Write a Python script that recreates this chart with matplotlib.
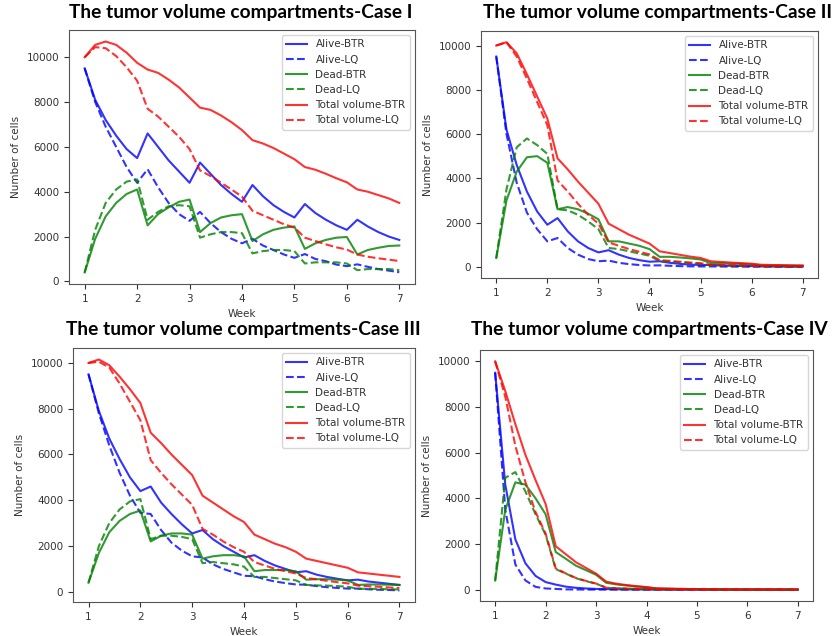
import numpy as np
import matplotlib
matplotlib.use("Agg")
import matplotlib.pyplot as plt

# daily samples, 5 per week, from week 1 to week 7
weeks = np.round(np.linspace(1, 7, 31), 1)

# Case I
alive_btr_1 = [9500, 8100, 7200, 6500, 5900, 5500, 6600, 6000, 5400, 4900, 4400, 5300, 4800, 4300, 3900, 3550,
               4300, 3800, 3400, 3100, 2850, 3450, 3050, 2750, 2500, 2300, 2750, 2450, 2200, 2000, 1850]
alive_lq_1 = [9500, 8000, 6900, 6000, 5100, 4400, 5000, 4200, 3500, 3000, 2700, 3100, 2600, 2200, 1900, 1700,
              1900, 1600, 1400, 1200, 1050, 1220, 1000, 900, 750, 680, 760, 650, 550, 480, 410]
dead_btr_1 = [400, 1900, 2900, 3500, 3900, 4100, 2500, 3000, 3300, 3550, 3650, 2200, 2600, 2850, 2950, 3000,
              1800, 2100, 2300, 2400, 2450, 1450, 1700, 1850, 1950, 1980, 1200, 1400, 1500, 1580, 1600]
dead_lq_1 = [400, 2300, 3500, 4100, 4450, 4550, 2750, 3100, 3350, 3400, 3350, 1950, 2100, 2200, 2200, 2150,
             1250, 1350, 1400, 1400, 1350, 800, 850, 850, 850, 800, 500, 550, 550, 550, 500]
total_btr_1 = [10000, 10550, 10700, 10550, 10200, 9750, 9450, 9300, 9000, 8650, 8200, 7750, 7650, 7400, 7100, 6750,
               6300, 6150, 5950, 5700, 5450, 5100, 4980, 4800, 4600, 4420, 4100, 4000, 3850, 3700, 3500]
total_lq_1 = [10000, 10450, 10400, 10050, 9550, 8950, 7700, 7350, 6900, 6450, 5900, 4950, 4700, 4400, 4100, 3780,
              3150, 2950, 2750, 2550, 2400, 1950, 1800, 1650, 1520, 1420, 1200, 1100, 1030, 970, 910]

# Case II
alive_btr_2 = [9500, 6200, 4600, 3400, 2500, 1900, 2200, 1600, 1150, 850, 650, 750, 550, 400, 300, 230,
               250, 180, 130, 100, 80, 85, 65, 50, 40, 30, 32, 25, 20, 15, 12]
alive_lq_2 = [9500, 6000, 3800, 2450, 1700, 1150, 1300, 850, 550, 350, 250, 280, 180, 120, 80, 60,
              65, 45, 30, 20, 15, 16, 11, 8, 6, 4, 5, 3, 2, 2, 1]
dead_btr_2 = [400, 3000, 4300, 4950, 5000, 4700, 2600, 2700, 2600, 2400, 2150, 1150, 1150, 1050, 950, 800,
              450, 450, 420, 380, 330, 170, 170, 150, 130, 110, 60, 60, 55, 50, 45]
dead_lq_2 = [400, 3500, 5400, 5800, 5500, 5100, 2600, 2550, 2350, 2050, 1700, 850, 800, 700, 600, 500,
             250, 230, 200, 170, 140, 70, 65, 55, 45, 40, 20, 18, 15, 13, 10]
total_btr_2 = [10000, 10150, 9650, 8700, 7700, 6700, 4900, 4400, 3850, 3350, 2850, 1950, 1700, 1450, 1250, 1050,
               700, 620, 540, 460, 400, 250, 220, 190, 165, 140, 90, 80, 75, 65, 60]
total_lq_2 = [10000, 10150, 9500, 8500, 7450, 6400, 3900, 3400, 2850, 2350, 1950, 1100, 950, 800, 680, 560,
              300, 270, 230, 190, 160, 85, 75, 65, 55, 45, 25, 22, 18, 15, 12]

# Case III
alive_btr_3 = [9500, 7900, 6700, 5800, 5000, 4400, 4600, 3900, 3400, 2950, 2550, 2700, 2300, 2000, 1750, 1500,
               1600, 1350, 1150, 1000, 850, 900, 750, 650, 570, 500, 530, 450, 400, 350, 300]
alive_lq_3 = [9500, 7800, 6400, 5200, 4200, 3450, 3400, 2700, 2150, 1800, 1550, 1500, 1200, 1000, 850, 700,
              680, 550, 450, 380, 320, 310, 250, 200, 170, 140, 140, 110, 90, 80, 60]
dead_btr_3 = [400, 1700, 2600, 3100, 3400, 3550, 2200, 2450, 2550, 2550, 2500, 1450, 1550, 1600, 1600, 1550,
              900, 950, 950, 950, 900, 530, 550, 550, 530, 500, 300, 320, 320, 310, 300]
dead_lq_3 = [400, 2000, 3000, 3600, 3950, 4050, 2300, 2450, 2450, 2400, 2300, 1250, 1300, 1250, 1200, 1100,
             650, 650, 600, 550, 500, 300, 280, 270, 250, 220, 130, 130, 120, 110, 100]
total_btr_3 = [10000, 10150, 9900, 9400, 8850, 8250, 6950, 6500, 6000, 5550, 5100, 4200, 3900, 3600, 3300, 3050,
               2500, 2300, 2100, 1950, 1750, 1450, 1350, 1250, 1150, 1050, 850, 800, 750, 700, 650]
total_lq_3 = [10000, 10050, 9800, 9100, 8300, 7500, 5750, 5200, 4700, 4250, 3800, 2750, 2500, 2200, 1950, 1750,
              1300, 1150, 1000, 900, 800, 600, 550, 480, 420, 370, 270, 240, 220, 190, 170]

# Case IV
alive_btr_4 = [9500, 4600, 2200, 1150, 600, 330, 220, 130, 80, 50, 30, 25, 15, 10, 6, 4,
               3, 2, 1, 1, 1, 1, 0, 0, 0, 0, 0, 0, 0, 0, 0]
alive_lq_4 = [9500, 3500, 1100, 400, 120, 50, 30, 10, 5, 2, 1, 1, 0, 0, 0, 0,
              0, 0, 0, 0, 0, 0, 0, 0, 0, 0, 0, 0, 0, 0, 0]
dead_btr_4 = [400, 3500, 4700, 4600, 4000, 3300, 1650, 1350, 1050, 850, 650, 300, 230, 180, 140, 100,
              50, 40, 30, 25, 20, 10, 8, 6, 5, 4, 2, 2, 1, 1, 1]
dead_lq_4 = [400, 4900, 5150, 4300, 3300, 2400, 900, 700, 500, 370, 260, 80, 60, 45, 35, 25,
             8, 6, 5, 4, 3, 1, 1, 1, 0, 0, 0, 0, 0, 0, 0]
total_btr_4 = [10000, 8700, 7250, 5900, 4800, 3750, 1900, 1550, 1200, 950, 700, 350, 260, 200, 150, 110,
               55, 45, 35, 28, 22, 12, 10, 8, 6, 5, 3, 2, 2, 1, 1]
total_lq_4 = [10000, 8450, 6300, 4700, 3400, 2450, 930, 710, 510, 380, 265, 82, 62, 46, 36, 26,
              9, 7, 5, 4, 3, 1, 1, 1, 0, 0, 0, 0, 0, 0, 0]

case_names = ["I", "II", "III", "IV"]

fig = plt.figure(figsize=(8.35, 6.36), dpi=100)

# axes boxes [left, bottom, width, height] and title centres
boxes = [[0.0826, 0.5535, 0.4144, 0.3994],
         [0.5760, 0.5629, 0.4036, 0.3884],
         [0.0874, 0.0535, 0.4096, 0.3994],
         [0.5749, 0.0550, 0.3988, 0.3947]]
title_pos = [(0.288, 0.981), (0.787, 0.981), (0.291, 0.482), (0.778, 0.482)]

series = [
    (alive_btr_1, alive_lq_1, dead_btr_1, dead_lq_1, total_btr_1, total_lq_1),
    (alive_btr_2, alive_lq_2, dead_btr_2, dead_lq_2, total_btr_2, total_lq_2),
    (alive_btr_3, alive_lq_3, dead_btr_3, dead_lq_3, total_btr_3, total_lq_3),
    (alive_btr_4, alive_lq_4, dead_btr_4, dead_lq_4, total_btr_4, total_lq_4),
]

fs = 7.5
tick_col = "#333333"

for i in range(4):
    ax = fig.add_axes(boxes[i])
    a_btr, a_lq, d_btr, d_lq, t_btr, t_lq = series[i]

    ax.plot(weeks, a_btr, "b-", alpha=0.8, lw=1.5, label="Alive-BTR")
    ax.plot(weeks, a_lq, "b--", alpha=0.8, lw=1.5, label="Alive-LQ")
    ax.plot(weeks, d_btr, "g-", alpha=0.8, lw=1.5, label="Dead-BTR")
    ax.plot(weeks, d_lq, "g--", alpha=0.8, lw=1.5, label="Dead-LQ")
    ax.plot(weeks, t_btr, "r-", alpha=0.8, lw=1.5, label="Total volume-BTR")
    ax.plot(weeks, t_lq, "r--", alpha=0.8, lw=1.5, label="Total volume-LQ")

    ax.set_xticks([1, 2, 3, 4, 5, 6, 7])
    ax.tick_params(labelsize=fs, colors=tick_col, labelcolor=tick_col)
    ax.set_xlabel("Week", fontsize=fs, color=tick_col)
    ax.set_ylabel("Number of cells", fontsize=fs, color=tick_col)
    for s in ax.spines.values():
        s.set_color("#555555")
    ax.legend(loc="upper right", fontsize=fs, labelcolor=tick_col)

    fig.text(title_pos[i][0], title_pos[i][1], "The tumor volume compartments-Case " + case_names[i],
             ha="center", va="center", fontsize=13.8, fontweight="bold", family="Lato")

fig.savefig("out.png", dpi=100)
